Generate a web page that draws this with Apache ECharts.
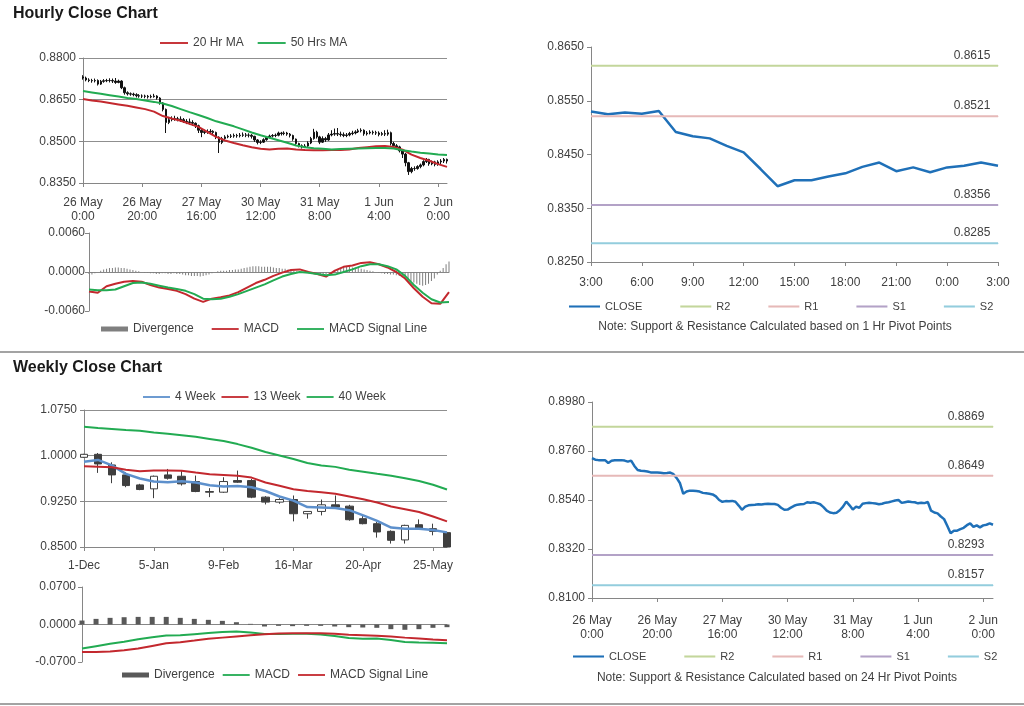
<!DOCTYPE html>
<html><head><meta charset="utf-8">
<script src="https://cdn.jsdelivr.net/npm/echarts/dist/echarts.min.js"></script>
<style>html,body{margin:0;padding:0;background:#fff}#c{width:1024px;height:706px}</style>
</head><body><div id="c"></div>
<script>
// ---------------- Hourly data: 26 May 0:00 -> 2 Jun 3:00 (124 trading hours) ----------------
const hourTickLabels = ['26 May\n0:00','26 May\n20:00','27 May\n16:00','30 May\n12:00','31 May\n8:00','1 Jun\n4:00','2 Jun\n0:00'];
const hFirstOpen = 0.8732;
const hClose = [
0.8728,0.8721,0.8719,0.8718,0.8719,0.8706,0.8716,0.8718,0.8719,0.8719,
0.8717,0.8712,0.8717,0.8693,0.8675,0.8671,0.8670,0.8668,0.8664,0.8663,
0.8663,0.8662,0.8660,0.8661,0.8663,0.8656,0.8638,0.8615,0.8568,0.8578,
0.8582,0.8581,0.8580,0.8578,0.8572,0.8570,0.8568,0.8565,0.8556,0.8540,
0.8532,0.8535,0.8534,0.8536,0.8532,0.8515,0.8496,0.8510,0.8516,0.8518,
0.8519,0.8521,0.8520,0.8522,0.8523,0.8522,0.8522,0.8518,0.8505,0.8496,
0.8497,0.8506,0.8514,0.8519,0.8521,0.8522,0.8530,0.8528,0.8530,0.8526,
0.8521,0.8508,0.8492,0.8484,0.8481,0.8483,0.8494,0.8510,0.8533,0.8516,
0.8497,0.8510,0.8505,0.8523,0.8526,0.8528,0.8526,0.8524,0.8521,0.8523,
0.8528,0.8530,0.8534,0.8538,0.8540,0.8527,0.8530,0.8533,0.8531,0.8530,
0.8525,0.8528,0.8526,0.8531,0.8492,0.8484,0.8480,0.8466,0.8454,0.8423,
0.8391,0.8402,0.8402,0.8409,0.8415,0.8427,0.8435,0.8419,0.8426,0.8417,
0.8426,0.8429,0.8435,0.8429];
const hHigh = [
0.8738,0.8733,0.8727,0.8725,0.8726,0.8723,0.8721,0.8724,0.8725,0.8727,
0.8726,0.8728,0.8722,0.8720,0.8697,0.8680,0.8676,0.8675,0.8673,0.8670,
0.8669,0.8668,0.8667,0.8668,0.8671,0.8666,0.8659,0.8641,0.8618,0.8588,
0.8590,0.8592,0.8588,0.8590,0.8584,0.8580,0.8582,0.8576,0.8568,0.8560,
0.8545,0.8542,0.8543,0.8544,0.8540,0.8535,0.8518,0.8516,0.8522,0.8524,
0.8526,0.8528,0.8527,0.8530,0.8532,0.8530,0.8529,0.8526,0.8520,0.8508,
0.8504,0.8511,0.8518,0.8524,0.8526,0.8528,0.8535,0.8534,0.8536,0.8534,
0.8530,0.8524,0.8510,0.8495,0.8489,0.8490,0.8500,0.8516,0.8545,0.8538,
0.8520,0.8518,0.8516,0.8530,0.8540,0.8546,0.8548,0.8535,0.8532,0.8530,
0.8534,0.8538,0.8540,0.8545,0.8547,0.8543,0.8537,0.8540,0.8539,0.8538,
0.8536,0.8534,0.8540,0.8542,0.8535,0.8498,0.8490,0.8484,0.8470,0.8458,
0.8426,0.8408,0.8410,0.8414,0.8420,0.8432,0.8440,0.8437,0.8431,0.8430,
0.8432,0.8436,0.8440,0.8438];
const hLow = [
0.8722,0.8716,0.8713,0.8711,0.8712,0.8701,0.8703,0.8711,0.8713,0.8712,
0.8710,0.8707,0.8709,0.8688,0.8668,0.8665,0.8664,0.8662,0.8658,0.8657,
0.8656,0.8655,0.8654,0.8655,0.8657,0.8650,0.8632,0.8608,0.8530,0.8562,
0.8572,0.8574,0.8572,0.8570,0.8566,0.8562,0.8560,0.8556,0.8548,0.8530,
0.8515,0.8526,0.8527,0.8528,0.8524,0.8508,0.8458,0.8490,0.8506,0.8511,
0.8512,0.8513,0.8513,0.8514,0.8516,0.8515,0.8514,0.8510,0.8498,0.8489,
0.8490,0.8494,0.8502,0.8510,0.8514,0.8515,0.8518,0.8521,0.8522,0.8520,
0.8514,0.8502,0.8486,0.8478,0.8474,0.8476,0.8480,0.8490,0.8506,0.8510,
0.8490,0.8494,0.8498,0.8502,0.8518,0.8520,0.8519,0.8517,0.8515,0.8515,
0.8518,0.8522,0.8525,0.8530,0.8532,0.8520,0.8521,0.8525,0.8524,0.8523,
0.8518,0.8520,0.8519,0.8520,0.8485,0.8476,0.8472,0.8460,0.8440,0.8410,
0.8379,0.8385,0.8394,0.8398,0.8403,0.8410,0.8422,0.8412,0.8414,0.8410,
0.8412,0.8418,0.8422,0.8420];
// smooth series read every 3 hours (hour index 0,3,...,123)
const maStep = 3;
const ma20 = [0.8652,0.8647,0.8643,0.8638,0.8633,0.8628,0.8622,0.8616,0.8607,0.8591,0.8582,0.8574,0.8563,0.8552,0.8534,0.8516,0.8503,0.8494,0.8486,0.8479,0.8473,0.8471,0.8473,0.8474,0.8471,0.8469,0.8468,0.8468,0.8469,0.8469,0.8471,0.8476,0.8479,0.8482,0.8483,0.8480,0.8470,0.8452,0.8440,0.8430,0.8418,0.8408];
const ma50 = [0.8681,0.8676,0.8671,0.8666,0.8661,0.8656,0.8652,0.8647,0.8642,0.8636,0.8627,0.8616,0.8605,0.8595,0.8584,0.8572,0.8563,0.8554,0.8543,0.8532,0.8522,0.8513,0.8504,0.8495,0.8485,0.8479,0.8475,0.8473,0.8471,0.8472,0.8473,0.8474,0.8475,0.8476,0.8476,0.8474,0.8468,0.8463,0.8459,0.8456,0.8453,0.8451];
const hMacd = [-0.0030,-0.0032,-0.0022,-0.0018,-0.0015,-0.0014,-0.0015,-0.0020,-0.0024,-0.0026,-0.0029,-0.0034,-0.0041,-0.0046,-0.0041,-0.0039,-0.0036,-0.0031,-0.0024,-0.0017,-0.0012,-0.0006,-0.0001,0.0003,0.0004,0.0000,-0.0003,-0.0007,0.0002,0.0008,0.0010,0.0014,0.0015,0.0012,0.0007,0.0000,-0.0010,-0.0025,-0.0038,-0.0048,-0.0049,-0.0031];
const hSignal = [-0.0027,-0.0028,-0.0028,-0.0027,-0.0022,-0.0017,-0.0016,-0.0018,-0.0021,-0.0024,-0.0026,-0.0029,-0.0034,-0.0041,-0.0042,-0.0041,-0.0038,-0.0034,-0.0029,-0.0024,-0.0019,-0.0013,-0.0007,-0.0003,0.0000,-0.0001,-0.0003,-0.0005,-0.0004,0.0000,0.0004,0.0009,0.0012,0.0012,0.0009,0.0004,-0.0006,-0.0020,-0.0032,-0.0042,-0.0047,-0.0046];
const hDiv = [
-0.0003,-0.0004,-0.0002,0.0000,0.0002,0.0004,0.0005,0.0006,0.0006,0.0007,
0.0007,0.0006,0.0006,0.0005,0.0004,0.0003,0.0002,0.0001,0.0000,-0.0001,
-0.0001,-0.0002,-0.0002,-0.0003,-0.0003,-0.0002,-0.0002,-0.0003,-0.0003,-0.0002,
-0.0003,-0.0003,-0.0004,-0.0005,-0.0005,-0.0006,-0.0006,-0.0006,-0.0007,-0.0006,
-0.0005,-0.0004,-0.0002,0.0000,0.0001,0.0002,0.0002,0.0002,0.0003,0.0003,
0.0004,0.0004,0.0005,0.0006,0.0007,0.0008,0.0009,0.0009,0.0009,0.0008,
0.0008,0.0008,0.0008,0.0007,0.0006,0.0006,0.0005,0.0005,0.0004,0.0003,
0.0002,0.0001,0.0000,-0.0001,-0.0001,-0.0002,-0.0002,-0.0002,-0.0003,-0.0003,
-0.0003,-0.0003,-0.0002,-0.0001,0.0002,0.0004,0.0006,0.0007,0.0008,0.0008,
0.0007,0.0007,0.0006,0.0005,0.0004,0.0003,0.0002,0.0001,0.0000,-0.0001,
-0.0002,-0.0003,-0.0003,-0.0004,-0.0004,-0.0005,-0.0006,-0.0008,-0.0010,-0.0012,
-0.0014,-0.0016,-0.0018,-0.0020,-0.0021,-0.0020,-0.0018,-0.0014,-0.0010,-0.0004,
0.0002,0.0006,0.0012,0.0016];

// ---------------- Last 24 hours (1 Jun 3:00 -> 2 Jun 3:00) ----------------
const dayLabels = ['3:00','4:00','5:00','6:00','7:00','8:00','9:00','10:00','11:00','12:00','13:00','14:00','15:00','16:00','17:00','18:00','19:00','20:00','21:00','22:00','23:00','0:00','1:00','2:00','3:00'];
const dayStartIndex = 99;
const r2Hr = 0.8615, r1Hr = 0.8521, s1Hr = 0.8356, s2Hr = 0.8285;
const r2Day = 0.8869, r1Day = 0.8649, s1Day = 0.8293, s2Day = 0.8157;

// ---------------- Weekly data ----------------
const weeks = ['1-Dec','8-Dec','15-Dec','22-Dec','29-Dec','5-Jan','12-Jan','19-Jan','26-Jan','2-Feb','9-Feb','16-Feb','23-Feb','2-Mar','9-Mar','16-Mar','23-Mar','30-Mar','6-Apr','13-Apr','20-Apr','27-Apr','4-May','11-May','18-May','25-May','1-Jun'];
const wOpen  = [0.9973,1.0022,0.9847,0.9684,0.9520,0.9455,0.9684,0.9662,0.9575,0.9411,0.9400,0.9591,0.9591,0.9319,0.9237,0.9280,0.9046,0.9084,0.9193,0.9171,0.8965,0.8883,0.8757,0.8616,0.8866,0.8801,0.8736];
const wClose = [1.0022,0.9864,0.9684,0.9509,0.9444,0.9662,0.9629,0.9537,0.9411,0.9400,0.9575,0.9564,0.9319,0.9237,0.9280,0.9046,0.9084,0.9193,0.9155,0.8948,0.8883,0.8747,0.8610,0.8855,0.8801,0.8757,0.8500];
const wLow   = [0.9965,0.9717,0.9548,0.9482,0.9433,0.9302,0.9607,0.9509,0.9400,0.9319,0.9389,0.9553,0.9302,0.9199,0.9210,0.8921,0.8965,0.9019,0.9139,0.8932,0.8872,0.8654,0.8556,0.8556,0.8790,0.8692,0.8500];
const wHigh  = [1.0030,1.0044,0.9891,0.9727,0.9537,0.9673,0.9782,0.9755,0.9673,0.9466,0.9646,0.9755,0.9618,0.9335,0.9302,0.9346,0.9084,0.9280,0.9346,0.9193,0.9008,0.8910,0.8774,0.8866,0.8953,0.8883,0.8747];
const wk4  = [0.9900,0.9930,0.9840,0.9700,0.9625,0.9575,0.9565,0.9578,0.9560,0.9515,0.9493,0.9500,0.9482,0.9420,0.9330,0.9262,0.9155,0.9150,0.9140,0.9105,0.9020,0.8930,0.8820,0.8800,0.8800,0.8778,0.8740];
const wk13 = [0.9825,0.9818,0.9808,0.9770,0.9745,0.9755,0.9757,0.9752,0.9722,0.9695,0.9684,0.9670,0.9640,0.9560,0.9505,0.9450,0.9420,0.9398,0.9375,0.9330,0.9285,0.9230,0.9165,0.9120,0.9075,0.9000,0.8921];
const wk40 = [1.0475,1.0455,1.0438,1.0420,1.0410,1.0381,1.0360,1.0335,1.0310,1.0275,1.0240,1.0190,1.0130,1.0060,1.0003,0.9946,0.9880,0.9840,0.9816,0.9770,0.9737,0.9702,0.9670,0.9630,0.9585,0.9522,0.9445];
const wDiv    = [0.0074,0.0105,0.0124,0.0136,0.0142,0.0142,0.0142,0.0124,0.0105,0.0087,0.0068,0.0043,0.0012,-0.0037,-0.0025,-0.0031,-0.0025,-0.0025,-0.0037,-0.0050,-0.0056,-0.0062,-0.0087,-0.0099,-0.0087,-0.0062,-0.0050];
const wMacd   = [-0.0450,-0.0405,-0.0360,-0.0320,-0.0275,-0.0240,-0.0205,-0.0202,-0.0180,-0.0160,-0.0140,-0.0132,-0.0150,-0.0175,-0.0178,-0.0175,-0.0172,-0.0185,-0.0215,-0.0250,-0.0265,-0.0260,-0.0290,-0.0325,-0.0335,-0.0340,-0.0350];
const wSignal = [-0.0515,-0.0515,-0.0505,-0.0480,-0.0450,-0.0400,-0.0350,-0.0330,-0.0300,-0.0268,-0.0245,-0.0222,-0.0200,-0.0180,-0.0168,-0.0163,-0.0162,-0.0165,-0.0172,-0.0190,-0.0200,-0.0210,-0.0225,-0.0245,-0.0260,-0.0280,-0.0295];

// ---------------- build ----------------
const FONT = '"Liberation Sans", Arial, sans-serif';
const TXT = '#404040';
const AXC = '#868686';
const RED = '#c3282e', GREEN = '#22ab52', BLUE = '#1f70b8', LBLUE = '#5d90cc';
const cR2 = '#c3d69b', cR1 = '#e6b9b8', cS1 = '#b3a2c7', cS2 = '#93cddd';
const LINE_ICON = 'path://M0,0L30,0L30,2L0,2Z';
const P = 10000;
const tr = (v, b) => v == null ? null : Math.round((v - b) * P * 100) / 100;
const lab = b => v => (b + v / P).toFixed(4);
const NH = hClose.length, NW = weeks.length, ND = dayLabels.length;
const hIdx = hClose.map((_, i) => i);
const sparse = (arr, base) => { const out = new Array(NH).fill(null); arr.forEach((v, k) => { out[k * maStep] = tr(v, base); }); return out; };
const B0 = 0.835, B2 = 0.825, B3 = 0.85, B5 = 0.81;

const axLine = {show: true, lineStyle: {color: AXC, width: 1}};
const tick = (interval) => ({show: true, length: 4, interval, lineStyle: {color: AXC}});
const yLabel = (b, margin) => ({show: true, color: TXT, fontSize: 12, fontFamily: FONT, formatter: lab(b), margin});
const splitL = {show: true, lineStyle: {color: '#8f8f8f', width: 1}};
const noSplit = {show: false};

function yAx(grid, base, min, max, interval, split, margin) {
  return {type: 'value', gridIndex: grid, min, max, interval, scale: false,
    axisLine: axLine, axisTick: {show: true, length: 4, lineStyle: {color: AXC}},
    axisLabel: yLabel(base, margin), splitLine: split ? splitL : noSplit};
}
function xAx(grid, data, every, fmt, margin, showLabel) {
  return {type: 'category', gridIndex: grid, data, boundaryGap: false,
    axisLine: Object.assign({onZero: true}, axLine),
    axisTick: showLabel ? Object.assign(tick(every - 1), {alignWithLabel: true}) : {show: false},
    axisLabel: {show: showLabel, interval: every - 1, formatter: (v, i) => (i % every === 0 ? (fmt ? fmt(v, i) : v) : ''),
      color: TXT, fontSize: 12, lineHeight: 14, fontFamily: FONT, margin, hideOverlap: false},
    splitLine: {show: false}};
}
function line(name, xi, yi, data, color, width, connect) {
  return {type: 'line', name, xAxisIndex: xi, yAxisIndex: yi, data, symbol: 'none', showSymbol: false,
    connectNulls: !!connect, lineStyle: {color, width}, itemStyle: {color}, animation: false, silent: true};
}
function pivot(name, xi, yi, n, val, base, color, dx) {
  const y = tr(val, base);
  const s = line(name, xi, yi, [[0, y], [n - 1, y]], color, 2);
  s.markPoint = {symbol: 'circle', symbolSize: 1, itemStyle: {color}, silent: true, animation: false,
    label: {show: true, position: 'top', distance: 4, offset: [dx, 0], formatter: val.toFixed(4),
      color: TXT, fontSize: 12, fontFamily: FONT},
    data: [{coord: [n - 1, y]}]};
  return s;
}
const li = name => ({name, icon: LINE_ICON});
const legend = (data, left, top, gap, w, fs) => ({data, left, top, itemGap: gap, itemWidth: w, itemHeight: 5,
  orient: 'horizontal', padding: 0, selectedMode: false, formatter: n => n.split('|')[0],
  textStyle: {color: TXT, fontSize: fs, fontFamily: FONT}});

const hCandles = hClose.map((c, i) => [tr(i === 0 ? hFirstOpen : hClose[i - 1], B0), tr(c, B0), tr(hLow[i], B0), tr(hHigh[i], B0)]);
const wCandles = wClose.map((c, i) => [tr(wOpen[i], B3), tr(c, B3), tr(wLow[i], B3), tr(wHigh[i], B3)]);
const hourFmt = (v, i) => hourTickLabels[i / 20] || '';

const option = {
  backgroundColor: '#ffffff',
  animation: false,
  textStyle: {fontFamily: FONT},
  grid: [
    {left: 83, right: 577, top: 58, height: 125, outerBoundsMode: 'none'},
    {left: 89, right: 575, top: 233, height: 78, outerBoundsMode: 'none'},
    {left: 591, right: 26, top: 47, height: 215, outerBoundsMode: 'none'},
    {left: 84, right: 577, top: 410, height: 137, outerBoundsMode: 'none'},
    {left: 82, right: 577, top: 587, height: 75, outerBoundsMode: 'none'},
    {left: 592, right: 31, top: 402, height: 196, outerBoundsMode: 'none'}
  ],
  xAxis: [
    xAx(0, hIdx, 20, hourFmt, 13, true),
    xAx(1, hIdx, 20, null, 8, false),
    xAx(2, dayLabels, 3, null, 14, true),
    xAx(3, weeks, 5, null, 12, true),
    xAx(4, weeks, 5, null, 8, false),
    xAx(5, hIdx, 20, hourFmt, 16, true)
  ],
  yAxis: [
    yAx(0, B0, 0, 450, 150, true, 7),
    yAx(1, 0, -60, 60, 60, false, 4),
    yAx(2, B2, 0, 400, 100, false, 7),
    yAx(3, B3, 0, 2250, 750, true, 7),
    yAx(4, 0, -700, 700, 700, false, 6),
    yAx(5, B5, 0, 880, 220, false, 7)
  ],
  legend: [
    legend([li('20 Hr MA'), li('50 Hrs MA')], 160, 37, 14, 28, 12),
    legend([{name: 'Divergence|h', icon: 'rect'}, li('MACD|h'), li('MACD Signal Line|h')], 101, 323, 18, 27, 12),
    legend([li('CLOSE|d'), li('R2|d'), li('R1|d'), li('S1|d'), li('S2|d')], 569, 301, 38, 31, 11),
    legend([li('4 Week'), li('13 Week'), li('40 Week')], 143, 391, 6, 27, 12),
    legend([{name: 'Divergence|w', icon: 'rect'}, li('MACD|w'), li('MACD Signal Line|w')], 122, 669, 8, 27, 12),
    legend([li('CLOSE|h'), li('R2|h'), li('R1|h'), li('S1|h'), li('S2|h')], 573, 651, 38, 31, 11)
  ],
  graphic: [
    {type: 'text', left: 13, top: 6, style: {text: 'Hourly Close Chart', font: 'bold 16px ' + FONT, fill: '#1a1a1a'}},
    {type: 'text', left: 13, top: 360, style: {text: 'Weekly Close Chart', font: 'bold 16px ' + FONT, fill: '#1a1a1a'}},
    {type: 'line', shape: {x1: 0, y1: 352, x2: 1024, y2: 352}, style: {stroke: '#a3a3a3', lineWidth: 2}},
    {type: 'line', shape: {x1: 0, y1: 704, x2: 1024, y2: 704}, style: {stroke: '#a3a3a3', lineWidth: 2}},
    {type: 'text', x: 775, y: 327, style: {text: 'Note: Support & Resistance Calculated based on 1 Hr Pivot Points', font: '12px ' + FONT, fill: TXT, align: 'center', verticalAlign: 'middle'}},
    {type: 'text', x: 777, y: 678, style: {text: 'Note: Support & Resistance Calculated based on 24 Hr Pivot Points', font: '12px ' + FONT, fill: TXT, align: 'center', verticalAlign: 'middle'}}
  ],
  series: [
    // hourly price
    {type: 'candlestick', name: 'Hourly', xAxisIndex: 0, yAxisIndex: 0, data: hCandles, barWidth: 2,
      itemStyle: {color: '#111', color0: '#111', borderColor: '#111', borderColor0: '#111', borderWidth: 1}, silent: true, animation: false},
    line('20 Hr MA', 0, 0, sparse(ma20, B0), RED, 2, true),
    line('50 Hrs MA', 0, 0, sparse(ma50, B0), GREEN, 2, true),
    // hourly MACD
    {type: 'bar', name: 'Divergence|h', xAxisIndex: 1, yAxisIndex: 1, data: hDiv.map(v => tr(v, 0)), barWidth: 1,
      itemStyle: {color: '#7f7f7f'}, silent: true, animation: false},
    line('MACD|h', 1, 1, sparse(hMacd, 0), RED, 2, true),
    line('MACD Signal Line|h', 1, 1, sparse(hSignal, 0), GREEN, 2, true),
    // last 24h
    line('CLOSE|d', 2, 2, hClose.slice(dayStartIndex).map(v => tr(v, B2)), BLUE, 2.5),
    pivot('R2|d', 2, 2, ND, r2Hr, B2, cR2, -26),
    pivot('R1|d', 2, 2, ND, r1Hr, B2, cR1, -26),
    pivot('S1|d', 2, 2, ND, s1Hr, B2, cS1, -26),
    pivot('S2|d', 2, 2, ND, s2Hr, B2, cS2, -26),
    // weekly price
    {type: 'candlestick', name: 'Weekly', xAxisIndex: 3, yAxisIndex: 3, data: wCandles, barWidth: 8,
      itemStyle: {color: '#ffffff', color0: '#3f3f3f', borderColor: '#3f3f3f', borderColor0: '#3f3f3f', borderWidth: 1}, silent: true, animation: false},
    line('4 Week', 3, 3, wk4.map(v => tr(v, B3)), LBLUE, 2.5),
    line('13 Week', 3, 3, wk13.map(v => tr(v, B3)), RED, 2),
    line('40 Week', 3, 3, wk40.map(v => tr(v, B3)), GREEN, 2),
    // weekly MACD
    {type: 'bar', name: 'Divergence|w', xAxisIndex: 4, yAxisIndex: 4, data: wDiv.map(v => tr(v, 0)), barWidth: 5,
      itemStyle: {color: '#595959'}, silent: true, animation: false},
    line('MACD|w', 4, 4, wMacd.map(v => tr(v, 0)), GREEN, 2),
    line('MACD Signal Line|w', 4, 4, wSignal.map(v => tr(v, 0)), RED, 2),
    // hourly close with 24h pivots
    line('CLOSE|h', 5, 5, hClose.map(v => tr(v, B5)), BLUE, 2.5),
    pivot('R2|h', 5, 5, NH, r2Day, B5, cR2, -27),
    pivot('R1|h', 5, 5, NH, r1Day, B5, cR1, -27),
    pivot('S1|h', 5, 5, NH, s1Day, B5, cS1, -27),
    pivot('S2|h', 5, 5, NH, s2Day, B5, cS2, -27)
  ]
};
const chart = echarts.init(document.getElementById('c'), null, {renderer: 'canvas'});
chart.setOption(option);
</script></body></html>
